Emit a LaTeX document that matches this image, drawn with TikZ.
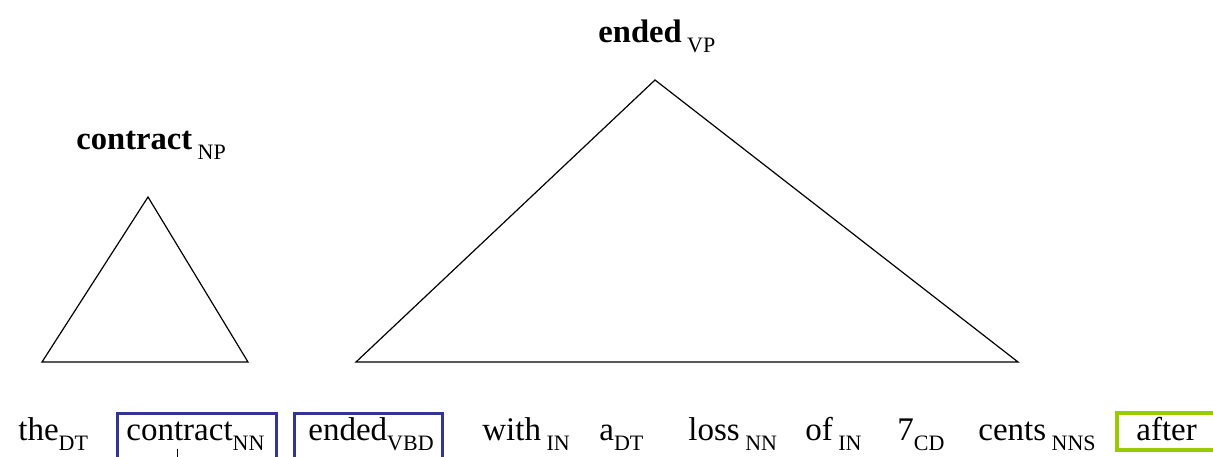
\documentclass[tikz,border=0pt]{standalone}
\usepackage{fontspec}
\setmainfont{Liberation Serif}
\usetikzlibrary{positioning}

\definecolor{tagblue}{RGB}{52,52,150}
\definecolor{taggreen}{RGB}{153,204,0}

% lowered part-of-speech tag
\newcommand{\tg}[1]{\raisebox{-5pt}{\fontsize{11}{11}\selectfont #1}}
\newcommand{\htg}[1]{\raisebox{-5pt}{\fontsize{11}{11}\selectfont #1}}

\begin{document}
\begin{tikzpicture}[x=0.5pt,y=-0.5pt,
    word/.style={anchor=base west, inner sep=0pt, font=\fontsize{16.5}{16.5}\selectfont},
    head/.style={anchor=base west, inner sep=0pt, font=\bfseries\fontsize{16.3}{16.3}\selectfont},
    tri/.style={line width=0.6pt, line join=miter},
    bluebox/.style={draw=tagblue, line width=1.5pt},
    greenbox/.style={draw=taggreen, line width=2pt}]
  % Layout positions
  \def\wordy{440}  % baseline of the sentence
  \def\npy{149}    % baseline of contract_NP
  \def\vpy{42}     % baseline of ended_VP
  \def\basey{362}  % base of both triangles

  \useasboundingbox (0,0) rectangle (1213,456);
  \clip (0,0) rectangle (1213,456);

  % Sentence
  \node[word] (the)      at (18,\wordy)   {the\tg{DT}};
  \node[word] (contract) at (126,\wordy)  {contract\tg{NN}};
  \node[word] (ended)    at (308,\wordy)  {ended\tg{VBD}};
  \node[word] (with)     at (482,\wordy)  {with\,\tg{IN}};
  \node[word] (a)        at (599,\wordy)  {a\tg{DT}};
  \node[word] (loss)     at (688,\wordy)  {loss\,\tg{NN}};
  \node[word] (of)       at (805,\wordy)  {of\,\tg{IN}};
  \node[word] (seven)    at (897,\wordy)  {7\tg{CD}};
  \node[word] (cents)    at (978,\wordy)  {cents\,\tg{NNS}};
  \node[word] (after)    at (1136,\wordy) {after};

  % Highlight boxes
  \draw[bluebox] (117,413) rectangle (276,470);
  \draw[bluebox] (294,413) rectangle (442,470);
  \draw[greenbox] (1117,413) rectangle (1230,450);
  \draw[line width=0.5pt] (177,449) -- (177,460);

  % Heads
  \node[head] (np) at (76,\npy) {contract\,\htg{\mdseries NP}};
  \node[head] (vp) at (598,\vpy) {ended\,\htg{\mdseries VP}};

  % Constituent triangles
  \coordinate (nptop)   at (148,197);
  \coordinate (npleft)  at (42,\basey);
  \coordinate (npright) at (248,\basey);
  \draw[tri] (nptop) -- (npleft) -- (npright) -- cycle;

  \coordinate (vptop)   at (655,80);
  \coordinate (vpleft)  at (356,\basey);
  \coordinate (vpright) at (1018,\basey);
  \draw[tri] (vptop) -- (vpleft) -- (vpright) -- cycle;
\end{tikzpicture}
\end{document}
